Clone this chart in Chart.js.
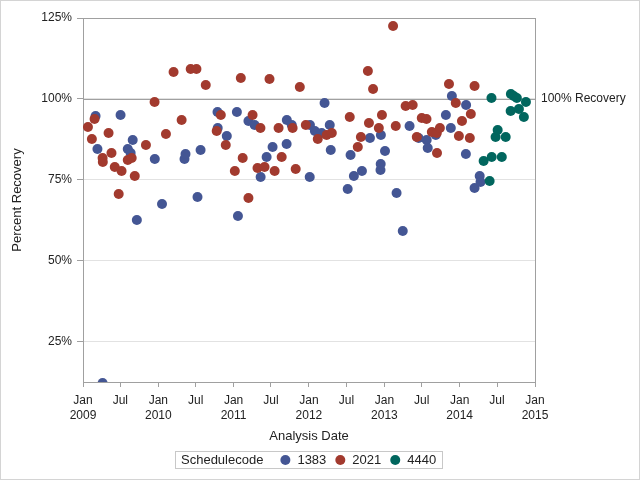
<!DOCTYPE html>
<html>
<head>
<meta charset="utf-8">
<script src="https://cdn.jsdelivr.net/npm/chart.js@4.4.1/dist/chart.umd.min.js"></script>
<style>
  html, body { margin: 0; padding: 0; background: #fff; }
  canvas { display: block; }
</style>
</head>
<body>
<canvas id="recovery" width="640" height="480"></canvas>
<script>
const seriesNames = ['1383', '2021', '4440'];
const seriesColors = ['#445694', '#A23A2E', '#01665E'];

const dates1383 = ['2009-03-03','2009-03-12','2009-04-06','2009-07-02','2009-08-06','2009-08-20','2009-08-30','2009-09-19',
  '2009-12-15','2010-01-19','2010-05-08','2010-05-13','2010-07-10','2010-07-25','2010-10-15','2010-10-16','2010-11-29',
  '2011-01-17','2011-01-22','2011-03-14','2011-04-13','2011-05-12','2011-06-10','2011-07-09','2011-09-15','2011-09-16',
  '2011-10-10','2012-01-05','2012-01-06','2012-01-30','2012-03-03','2012-03-17','2012-04-11','2012-04-16','2012-07-07',
  '2012-07-21','2012-08-06','2012-09-14','2012-10-23','2012-12-13','2012-12-14','2012-12-15','2013-01-04','2013-03-01',
  '2013-03-31','2013-05-03','2013-06-16','2013-07-25','2013-07-30','2013-09-07','2013-10-26','2013-11-19','2013-11-24',
  '2014-01-31','2014-02-01','2014-03-14','2014-04-08','2014-04-12'];
const values1383 = [94.75, 84.57, 12.35, 95.06, 84.57, 83.33, 87.35, 62.65,
  81.48, 67.59, 81.48, 83.02, 69.75, 84.26, 95.99, 91.05, 88.58,
  95.99, 63.89, 93.21, 91.98, 75.93, 82.10, 85.19, 86.11, 93.52,
  91.98, 75.93, 91.98, 90.12, 89.51, 98.77, 91.98, 84.26, 72.22,
  82.72, 76.23, 77.78, 87.96, 78.09, 79.94, 88.89, 83.95, 70.99,
  59.26, 91.67, 87.96, 87.35, 84.88, 88.89, 95.06, 91.05, 100.93,
  83.02, 98.15, 72.53, 76.23, 74.38];

const dates2021 = ['2009-01-25','2009-02-13','2009-02-26','2009-04-06','2009-04-07','2009-05-05','2009-05-19','2009-06-04',
  '2009-06-23','2009-07-07','2009-08-06','2009-08-25','2009-09-09','2009-11-02','2009-12-14','2010-02-07','2010-03-16',
  '2010-04-24','2010-06-07','2010-07-05','2010-08-19','2010-10-11','2010-10-31','2010-11-24','2011-01-07','2011-02-05',
  '2011-02-14','2011-03-14','2011-04-03','2011-04-27','2011-05-11','2011-05-31','2011-06-24','2011-07-19','2011-08-07',
  '2011-08-22','2011-10-14','2011-10-29','2011-11-18','2011-12-17','2012-02-13','2012-03-27','2012-04-21','2012-07-17',
  '2012-08-25','2012-09-09','2012-10-13','2012-10-18','2012-11-07','2012-12-05','2012-12-20','2013-02-12','2013-02-25',
  '2013-04-14','2013-05-18','2013-06-07','2013-07-01','2013-07-24','2013-08-19','2013-09-12','2013-09-13','2013-09-27',
  '2013-11-10','2013-12-13','2013-12-28','2014-01-12','2014-02-19','2014-02-24','2014-03-14'];
const values2021 = [91.36, 87.65, 93.83, 81.79, 80.56, 89.51, 83.33, 79.01,
  70.68, 77.78, 81.17, 81.79, 76.23, 85.80, 99.07, 89.20, 108.33,
  93.52, 109.26, 109.26, 104.32, 90.12, 95.06, 85.80, 77.78, 106.48,
  81.79, 69.44, 95.06, 78.70, 91.05, 79.01, 106.17, 77.78, 91.05,
  82.10, 91.05, 78.40, 103.70, 91.98, 87.65, 88.89, 89.51, 94.44,
  85.19, 88.27, 108.64, 92.59, 103.09, 91.05, 95.06, 122.53, 91.67,
  97.84, 98.15, 88.27, 94.14, 93.83, 89.81, 89.51, 83.33, 91.05,
  104.63, 98.77, 88.58, 93.21, 87.96, 95.37, 104.01];

const dates4440 = ['2014-04-27','2014-05-26','2014-06-04','2014-06-05','2014-06-24','2014-07-04','2014-07-24','2014-08-12',
  '2014-09-05','2014-09-06','2014-09-20','2014-10-05','2014-10-15','2014-11-08','2014-11-18'];
const values4440 = [80.86, 74.69, 100.31, 82.10, 88.27, 90.43, 82.10, 88.27,
  96.30, 101.54, 100.93, 100.31, 96.91, 94.44, 99.07];

const yTicks = [25, 50, 75, 100, 125];
const yMin = 12.65, yMax = 125;
const xStart = '2009-01-01', xEnd = '2015-01-01';
const refValue = 100;
const refLabel = '100% Recovery';
const legendTitle = 'Schedulecode';

const FONT = '"Liberation Sans", Arial, sans-serif';
const TEXT = '#222';
const AXIS = '#a0a0a0';

function toTime(s) {
  const p = s.split('-').map(Number);
  return Date.UTC(p[0], p[1] - 1, p[2]);
}

function points(dates, values) {
  return dates.map((d, i) => ({ x: toTime(d), y: values[i] }));
}

const allDates = [dates1383, dates2021, dates4440];
const allValues = [values1383, values2021, values4440];

// Jan / Jul ticks across the range
const xTicks = [];
for (let y = 2009; y <= 2015; y++) {
  xTicks.push(Date.UTC(y, 0, 1));
  if (y < 2015) xTicks.push(Date.UTC(y, 6, 1));
}

const frame = {
  id: 'frame',
  beforeDatasetsDraw(chart) {
    const { ctx, chartArea: a } = chart;
    const yRef = Math.round(chart.scales.y.getPixelForValue(refValue)) + 0.5;
    ctx.save();
    ctx.strokeStyle = AXIS;
    ctx.lineWidth = 1;
    ctx.beginPath();
    ctx.moveTo(a.left, yRef);
    ctx.lineTo(a.right, yRef);
    ctx.stroke();
    ctx.strokeRect(Math.round(a.left) + 0.5, Math.round(a.top) + 0.5,
      Math.round(a.right - a.left), Math.round(a.bottom - a.top));
    ctx.restore();
  },
  afterDraw(chart) {
    const { ctx, chartArea: a } = chart;
    ctx.save();
    // reference line label
    ctx.fillStyle = TEXT;
    ctx.font = '12px ' + FONT;
    ctx.textAlign = 'left';
    ctx.textBaseline = 'middle';
    ctx.fillText(refLabel, a.right + 6, chart.scales.y.getPixelForValue(refValue));

    // legend box
    ctx.font = '13px ' + FONT;
    const r = 5, pad = 6, gapTitle = 17, gapMark = 7, gapItem = 9;
    const items = chart.data.datasets.map(ds => ({
      label: ds.label, color: ds.backgroundColor, w: ctx.measureText(ds.label).width
    }));
    const titleW = ctx.measureText(legendTitle).width;
    let total = pad + titleW + gapTitle;
    items.forEach((it, i) => { total += 2 * r + gapMark + it.w + (i < items.length - 1 ? gapItem : 0); });
    total += pad;
    const cx = (a.left + a.right) / 2;
    let x = Math.round(cx - total / 2);
    const top = 451, h = 17, mid = 460;
    ctx.strokeStyle = '#c8c8c8';
    ctx.strokeRect(x + 0.5, top + 0.5, Math.round(total), h);
    x += pad;
    ctx.fillStyle = TEXT;
    ctx.fillText(legendTitle, x, mid);
    x += titleW + gapTitle;
    items.forEach(it => {
      ctx.fillStyle = it.color;
      ctx.beginPath();
      ctx.arc(x + r, mid, r, 0, Math.PI * 2);
      ctx.fill();
      x += 2 * r + gapMark;
      ctx.fillStyle = TEXT;
      ctx.fillText(it.label, x, mid);
      x += it.w + gapItem;
    });

    // outer border
    ctx.strokeStyle = '#d4d4d4';
    ctx.strokeRect(0.5, 0.5, chart.width - 1, chart.height - 1);
    ctx.restore();
  }
};

Chart.defaults.font.family = FONT;
Chart.defaults.color = TEXT;

new Chart(document.getElementById('recovery'), {
  type: 'scatter',
  data: {
    datasets: seriesNames.map((name, i) => ({
      label: name,
      data: points(allDates[i], allValues[i]),
      backgroundColor: seriesColors[i],
      borderColor: seriesColors[i],
      pointRadius: 5,
      pointBorderWidth: 0,
      pointHoverRadius: 5,
      clip: 0,
      order: seriesNames.length - i
    }))
  },
  options: {
    responsive: false,
    animation: false,
    devicePixelRatio: 1,
    events: [],
    layout: { padding: { left: 0, top: 18, right: 105, bottom: 0 } },
    plugins: { legend: { display: false }, tooltip: { enabled: false } },
    scales: {
      x: {
        type: 'linear',
        min: toTime(xStart),
        max: toTime(xEnd),
        afterBuildTicks: s => { s.ticks = xTicks.map(v => ({ value: v })); },
        afterFit: s => { s.height = 98; },
        border: { display: false },
        grid: { drawOnChartArea: false, drawTicks: true, tickLength: 5, tickColor: AXIS },
        ticks: {
          autoSkip: false,
          maxRotation: 0,
          padding: 6,
          font: { size: 12, lineHeight: 1.25 },
          callback: v => {
            const d = new Date(v);
            return d.getUTCMonth() === 0 ? ['Jan', String(d.getUTCFullYear())] : 'Jul';
          }
        },
        title: { display: true, text: 'Analysis Date', font: { size: 13 }, padding: { top: 4, bottom: 36 } }
      },
      y: {
        min: yMin,
        max: yMax,
        afterBuildTicks: s => { s.ticks = yTicks.map(v => ({ value: v })); },
        afterFit: s => { s.width = 83; },
        border: { display: false },
        grid: { color: '#e2e2e2', tickLength: 6, tickColor: AXIS },
        ticks: { padding: 5, font: { size: 12 }, callback: v => v + '%' },
        title: { display: true, text: 'Percent Recovery', font: { size: 13 }, padding: { top: 10, bottom: 0 } }
      }
    }
  },
  plugins: [frame]
});
</script>
</body>
</html>
